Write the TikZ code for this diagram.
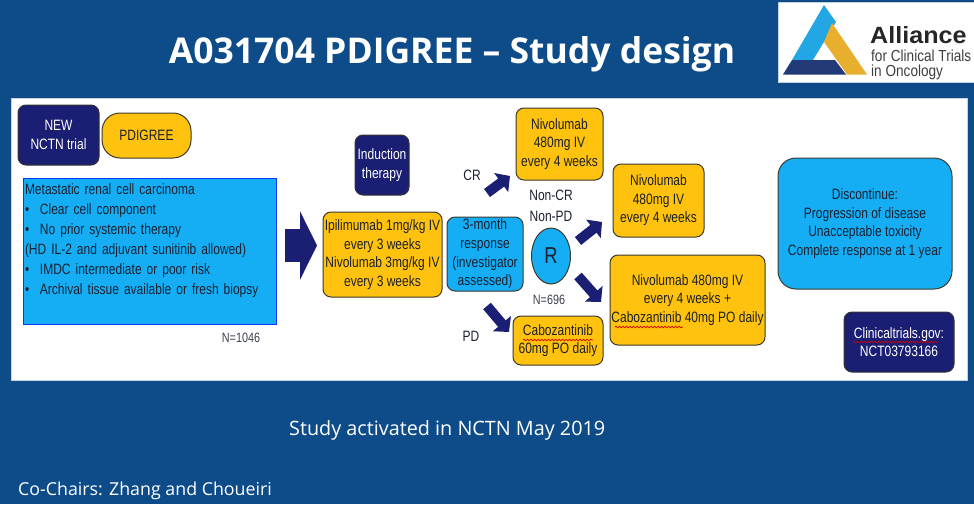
\documentclass[tikz,border=0pt]{standalone}
\usepackage{fontspec}
\setmainfont[FakeStretch=0.80]{Liberation Sans}
\newfontfamily\titlefont{Open Sans}
\newfontfamily\logofont[FakeStretch=1.07]{Liberation Sans}
\newfontfamily\logosmall[FakeStretch=0.85]{Liberation Sans}
\usetikzlibrary{arrows.meta,decorations.pathmorphing,shapes.geometric}
\definecolor{slidebg}{HTML}{0D4C89}
\definecolor{goldfill}{HTML}{FFC20E}
\definecolor{skyfill}{HTML}{15AEF5}
\definecolor{navyfill}{HTML}{1B1F73}
\definecolor{inktext}{HTML}{1C2030}
\definecolor{edgedark}{HTML}{3A3A30}
\definecolor{logosky}{HTML}{22A7E4}
\definecolor{logogold}{HTML}{E8AE2E}
\definecolor{logonavy}{HTML}{223A78}
\tikzset{
  x=1pt,y=-1pt,
  boxbase/.style={draw=edgedark,line width=1pt,rounded corners=8pt,align=center,inner sep=0pt,
    font=\fontsize{15}{18.6}\selectfont,text=inktext},
  goldbox/.style={boxbase,fill=goldfill},
  skybox/.style={boxbase,fill=skyfill},
  navybox/.style={boxbase,fill=navyfill,text=white,draw=black!80},
  plainlabel/.style={font=\fontsize{15}{20.5}\selectfont,text=inktext,inner sep=0pt,align=center},
  smalllabel/.style={font=\fontsize{13.5}{14}\selectfont,text=inktext!85,inner sep=0pt},
  slidetext/.style={text=white,inner sep=0pt},
  blockarrow/.style={draw=navyfill,line width=10pt,-{Triangle[length=11pt,width=23pt,fill=navyfill]}},
  bigarrow/.style={draw=navyfill,line width=33pt,-{Triangle[length=17pt,width=68pt,fill=navyfill]}},
  squiggle/.style={draw=red!80!black,line width=.7pt,decorate,decoration={snake,amplitude=.8pt,segment length=3.5pt}},
}
\newcommand{\bulletitem}[1]{\makebox[15pt][l]{•}#1}
\begin{document}
\begin{tikzpicture}
\useasboundingbox (0,0) rectangle (974,504);
\fill[slidebg] (0,0) rectangle (974,504);
\node[fill=white,draw=white!75!slidebg,line width=.8pt,minimum width=956pt,minimum height=282pt,inner sep=0pt] (panel) at (489,239) {};

% title and footer
\node[slidetext,font=\titlefont\bfseries\fontsize{35.5}{40}\selectfont] (title) at (452,54) {A031704 PDIGREE – Study design};
\node[slidetext,anchor=west,font=\titlefont\fontsize{19.8}{24}\selectfont] (activated) at (289,430) {Study activated in NCTN May 2019};
\node[slidetext,anchor=west,font=\titlefont\fontsize{17.8}{22}\selectfont] (chairs) at (18,491) {Co-Chairs: Zhang and Choueiri};

% logo
\node[fill=white,draw=white!75!slidebg,line width=.6pt,minimum width=196pt,minimum height=80pt,inner sep=0pt] (logo) at (876,42) {};
\fill[logosky] (824,5) -- (836,22) -- (813,60) -- (792,60) -- cycle;
\fill[logogold] (832,23) -- (867,74.5) -- (847,74.5) -- (824,42) -- cycle;
\fill[logonavy] (792,60) -- (835,60) -- (846,74.5) -- (783,74.5) -- cycle;
\node[anchor=west,inner sep=0pt,font=\logofont\bfseries\fontsize{23.5}{26}\selectfont,text=black!85] (logoa) at (870,35.5) {Alliance};
\node[anchor=west,inner sep=0pt,font=\logosmall\fontsize{16}{17}\selectfont,text=black!75] (logob) at (871,55.5) {for Clinical Trials};
\node[anchor=west,inner sep=0pt,font=\logosmall\fontsize{16}{17}\selectfont,text=black!75] (logoc) at (871,72) {in Oncology};

% boxes
\node[navybox,minimum width=81pt,minimum height=60pt] (newtrial) at (58.5,135) {NEW\\NCTN trial};
\node[goldbox,minimum width=89pt,minimum height=45pt,rounded corners=18pt] (pdigree) at (146.5,135.5) {PDIGREE};
\node[skybox,draw=blue!70!skyfill,rounded corners=0pt,minimum width=253pt,minimum height=146pt,text width=249pt,align=left,font=\fontsize{15}{20}\selectfont] (eligibility) at (149.5,251) {%
Metastatic renal cell carcinoma\\
\bulletitem{Clear cell component}\\
\bulletitem{No prior systemic therapy}\\
(HD IL-2 and adjuvant sunitinib allowed)\\
\bulletitem{IMDC intermediate or poor risk}\\
\bulletitem{Archival tissue available or fresh biopsy}\\[4pt]
\mbox{}};
\node[navybox,minimum width=54pt,minimum height=60pt] (induction) at (382,165) {Induction\\therapy};
\node[goldbox,minimum width=119pt,minimum height=85pt] (ipi) at (382.5,254.5) {Ipilimumab 1mg/kg IV\\every 3 weeks\\Nivolumab 3mg/kg IV\\every 3 weeks};
\node[skybox,minimum width=76pt,minimum height=74pt] (response) at (485,254) {3-month\\response\\(investigator\\assessed)};
\node[skybox,ellipse,minimum width=39pt,minimum height=56pt,font=\fontsize{23}{24}\selectfont] (rand) at (551,256) {R};
\node[goldbox,minimum width=87pt,minimum height=72pt] (nivotop) at (559.5,144) {Nivolumab\\480mg IV\\every 4 weeks};
\node[goldbox,minimum width=90pt,minimum height=49pt] (cabo) at (558,340.5) {Cabozantinib\\60mg PO daily};
\node[goldbox,minimum width=91pt,minimum height=73pt] (nivoright) at (658.5,200.5) {Nivolumab\\480mg IV\\every 4 weeks};
\node[goldbox,minimum width=155pt,minimum height=90pt] (combo) at (687.5,300) {Nivolumab 480mg IV\\every 4 weeks +\\Cabozantinib 40mg PO daily};
\node[skybox,minimum width=174pt,minimum height=131pt,rounded corners=18pt] (discontinue) at (865,223.5) {Discontinue:\\Progression of disease\\Unacceptable toxicity\\Complete response at 1 year};
\node[navybox,minimum width=110pt,minimum height=60pt] (clinical) at (899,342) {Clinicaltrials.gov:\\NCT03793166};

% labels
\node[smalllabel] (nlarge) at (241,338) {N=1046};
\node[smalllabel] (nsmall) at (549,300) {N=696};
\node[plainlabel] (crlabel) at (472,175) {CR};
\node[plainlabel] (pdlabel) at (471,336) {PD};
\node[plainlabel] (noncr) at (551,206) {Non-CR\\Non-PD};

% block arrows
\coordinate (bigtail) at (285,245.5);
\coordinate (bighead) at (317,245.5);
\coordinate (crtail) at (487,193);
\coordinate (crhead) at (510,176);
\coordinate (pdtail) at (487,306);
\coordinate (pdhead) at (509,332);
\coordinate (uptail) at (578,241);
\coordinate (uphead) at (602,222);
\coordinate (downtail) at (578,276);
\coordinate (downhead) at (601,302);
\draw[bigarrow] (bigtail) -- (bighead);
\draw[blockarrow] (crtail) -- (crhead);
\draw[blockarrow] (pdtail) -- (pdhead);
\draw[blockarrow] (uptail) -- (uphead);
\draw[blockarrow] (downtail) -- (downhead);

% spell-check underlines
\draw[squiggle] (523,340) -- (593,340);
\draw[squiggle] (615,327) -- (683,327);
\draw[squiggle] (853,342) -- (938,342);
\end{tikzpicture}
\end{document}
